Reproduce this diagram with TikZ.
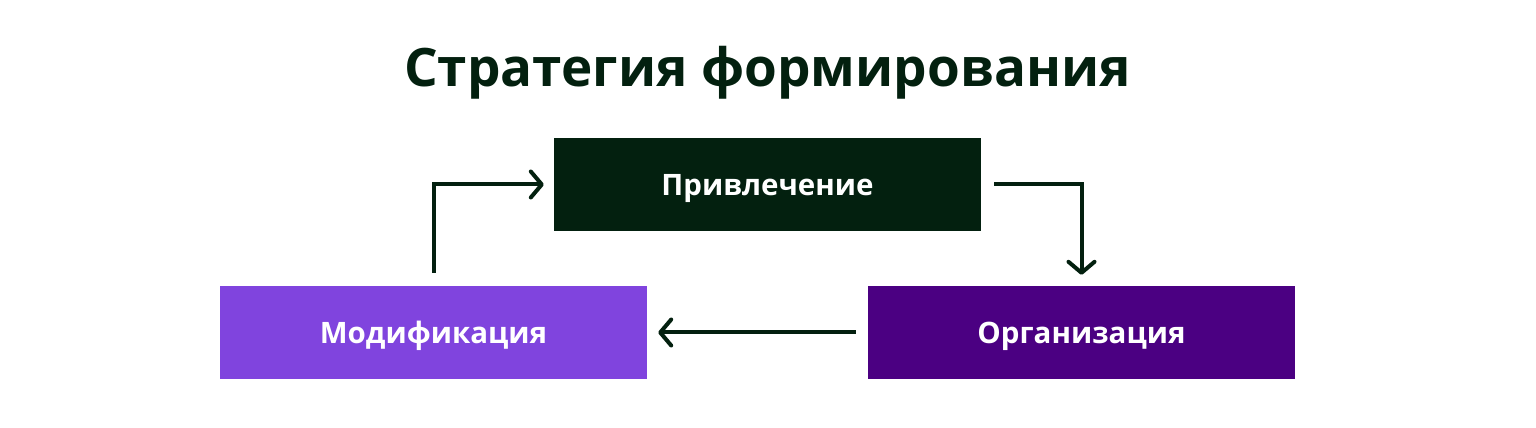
\documentclass[tikz,border=0pt]{standalone}
\usepackage{fontspec}
\setmainfont{Open Sans}
\usetikzlibrary{arrows.meta}
\definecolor{dgreen}{HTML}{03200F}
\definecolor{lpurple}{HTML}{8044DE}
\definecolor{dpurple}{HTML}{4B0082}
\tikzset{
  box/.style={fill=#1, draw=none, minimum width=427pt, minimum height=93pt, inner sep=0pt},
  lbl/.style={text=white, font=\fontsize{29.5}{36}\selectfont\bfseries, anchor=base, inner sep=0pt},
  arr/.style={draw=dgreen, line width=4pt, -{Straight Barb[length=11pt,width=26pt,round]}},
}
\begin{document}
\begin{tikzpicture}[x=1pt,y=1pt]
\useasboundingbox (0,0) rectangle (1536,428);
\node[text=dgreen, font=\fontsize{53}{60}\selectfont\bfseries, anchor=base, inner sep=0pt] (title) at (767.5,341) {Стратегия формирования};
\node[box=dgreen] (top) at (767.5,243.5) {};
\node[box=lpurple] (mod) at (433.5,95.5) {};
\node[box=dpurple] (org) at (1081.5,95.5) {};
\node[lbl] (toplbl) at (767.5,232) {Привлечение};
\node[lbl] (modlbl) at (433.5,84) {Модификация};
\node[lbl] (orglbl) at (1081.5,84) {Организация};
\draw[arr] ([yshift=13pt]mod.north) |- ([xshift=-10pt]top.west);
\draw[arr] ([xshift=13pt]top.east) -| ([yshift=11pt]org.north);
\draw[arr] ([xshift=-12pt]org.west) -- ([xshift=11pt]mod.east);
\end{tikzpicture}
\end{document}
